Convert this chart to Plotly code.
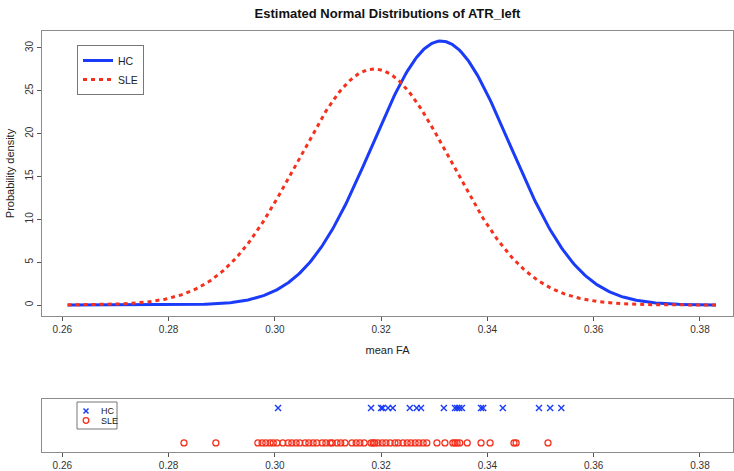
import numpy as np
import plotly.graph_objects as go

# ---- data ----
groups = ["HC", "SLE"]
hc_mean, hc_sd = 0.3313, 0.01295      # estimated normal parameters (HC)
sle_mean, sle_sd = 0.3187, 0.01448    # estimated normal parameters (SLE)
curve_min, curve_max = 0.261, 0.383

hc_values = [0.3006, 0.3181, 0.3200, 0.3203, 0.3213, 0.3222, 0.3254, 0.3267,
             0.3275, 0.3318, 0.3339, 0.3343, 0.3347, 0.3352, 0.3388, 0.3392,
             0.3429, 0.3497, 0.3518, 0.3539]
sle_values = [0.2829, 0.2889, 0.2968, 0.2976, 0.2983, 0.2991, 0.2997, 0.3004,
              0.3015, 0.3025, 0.3032, 0.3040, 0.3047, 0.3057, 0.3064, 0.3072,
              0.3079, 0.3089, 0.3096, 0.3104, 0.3108, 0.3117, 0.3124, 0.3132,
              0.3145, 0.3153, 0.3160, 0.3168, 0.3181, 0.3185, 0.3188, 0.3194,
              0.3202, 0.3209, 0.3217, 0.3226, 0.3232, 0.3241, 0.3249, 0.3256,
              0.3264, 0.3271, 0.3279, 0.3286, 0.3305, 0.3320, 0.3335, 0.3339,
              0.3343, 0.3348, 0.3362, 0.3388, 0.3405, 0.3450, 0.3454, 0.3514]
x_ticks = [0.26, 0.28, 0.30, 0.32, 0.34, 0.36, 0.38]
x_tick_labels = ["0.26", "0.28", "0.30", "0.32", "0.34", "0.36", "0.38"]
y_ticks = [0, 5, 10, 15, 20, 25, 30]

BLUE = "#1a3cf8"
RED = "#f5301c"
FONT = "Liberation Sans, Arial, sans-serif"
W, H = 734, 471


def normal_pdf(x, m, s):
    return np.exp(-0.5 * ((x - m) / s) ** 2) / (s * np.sqrt(2 * np.pi))


def px(x):
    return x / W


def py(y):
    return 1 - y / H


xs = np.linspace(curve_min, curve_max, 400)

fig = go.Figure()
fig.add_trace(go.Scatter(x=xs, y=normal_pdf(xs, hc_mean, hc_sd), mode="lines",
                         name=groups[0], line=dict(color=BLUE, width=3),
                         xaxis="x", yaxis="y"))
fig.add_trace(go.Scatter(x=xs, y=normal_pdf(xs, sle_mean, sle_sd), mode="lines",
                         name=groups[1], line=dict(color=RED, width=3, dash="4px,4px"),
                         xaxis="x", yaxis="y"))
fig.add_trace(go.Scatter(x=hc_values, y=[groups[0]] * len(hc_values), mode="markers",
                         name=groups[0], showlegend=False,
                         marker=dict(symbol="x-thin-open", size=6, color=BLUE,
                                     line=dict(color=BLUE, width=1.4)),
                         xaxis="x2", yaxis="y2"))
fig.add_trace(go.Scatter(x=sle_values, y=[groups[1]] * len(sle_values), mode="markers",
                         name=groups[1], showlegend=False,
                         marker=dict(symbol="circle-open", size=6, color=RED,
                                     line=dict(color=RED, width=1.3)),
                         xaxis="x2", yaxis="y2"))

x_dom = [px(42), px(733)]
xr = [0.26 - (62.3 - 42) / 5314, 0.26 + (733 - 62.3) / 5314]

axis_common = dict(showline=True, mirror=True, linecolor="#8c8c8c", linewidth=1,
                   ticks="outside", ticklen=4, tickcolor="#555555",
                   showgrid=False, zeroline=False, automargin=False,
                   tickfont=dict(family=FONT, size=10, color="#333333"))

# small legend of the strip panel (box, symbols, labels)
shapes = [
    dict(type="rect", xref="paper", yref="paper", x0=px(77), x1=px(117),
         y0=py(429), y1=py(402), line=dict(color="#777777", width=1),
         fillcolor="white", layer="above"),
    dict(type="line", xref="paper", yref="paper", x0=px(83.5), x1=px(88.5),
         y0=py(408.5), y1=py(413.5), line=dict(color=BLUE, width=1.4)),
    dict(type="line", xref="paper", yref="paper", x0=px(83.5), x1=px(88.5),
         y0=py(413.5), y1=py(408.5), line=dict(color=BLUE, width=1.4)),
    dict(type="circle", xref="paper", yref="paper", x0=px(83.2), x1=px(88.8),
         y0=py(423.3), y1=py(417.7), line=dict(color=RED, width=1.3)),
]
annotations = [
    dict(text=groups[0], xref="paper", yref="paper", x=px(99), y=py(411),
         xanchor="left", yanchor="middle", showarrow=False,
         font=dict(family=FONT, size=9, color="#222222")),
    dict(text=groups[1], xref="paper", yref="paper", x=px(99), y=py(420.5),
         xanchor="left", yanchor="middle", showarrow=False,
         font=dict(family=FONT, size=9, color="#222222")),
]

fig.update_layout(
    width=W, height=H,
    margin=dict(l=0, r=0, t=0, b=0),
    paper_bgcolor="white", plot_bgcolor="white",
    font=dict(family=FONT, color="#222222"),
    title=dict(text="<b>Estimated Normal Distributions of ATR_left</b>",
               x=px(387.5), xanchor="center", y=py(13), yanchor="middle",
               font=dict(family=FONT, size=13, color="#111111")),
    xaxis=dict(domain=x_dom, range=xr, anchor="y",
               tickvals=x_ticks, ticktext=x_tick_labels,
               title=dict(text="mean FA", standoff=12,
                          font=dict(family=FONT, size=11, color="#222222")),
               **axis_common),
    yaxis=dict(domain=[py(316), py(31)], range=[-1.28, 31.98], anchor="x",
               tickvals=y_ticks, tickangle=-90,
               title=dict(text="Probability density", standoff=7,
                          font=dict(family=FONT, size=11, color="#222222")),
               **axis_common),
    xaxis2=dict(domain=x_dom, range=xr, anchor="y2",
                tickvals=x_ticks, ticktext=x_tick_labels, **axis_common),
    yaxis2=dict(domain=[py(452), py(399)], anchor="x2",
                type="category", categoryorder="array", categoryarray=["SLE", "HC"],
                range=[-0.26, 1.26], showline=True, mirror=True,
                linecolor="#8c8c8c", linewidth=1, showticklabels=False,
                ticks="", showgrid=False, zeroline=False),
    legend=dict(x=px(77), y=py(45), xanchor="left", yanchor="top",
                bordercolor="#777777", borderwidth=1, bgcolor="white",
                font=dict(family=FONT, size=10.5, color="#222222"),
                itemwidth=30, tracegroupgap=0),
    shapes=shapes,
    annotations=annotations,
    showlegend=True,
)

fig.write_html("out.html",
               config={"displayModeBar": False},
               post_script="document.body.style.margin='0';"
                           "document.body.style.overflow='hidden';")
